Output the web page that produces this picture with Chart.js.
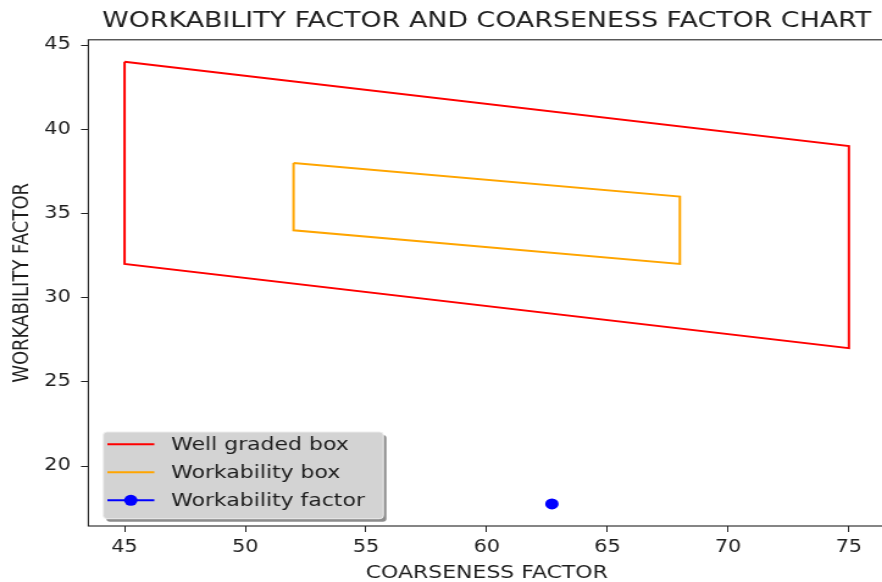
<!DOCTYPE html>
<html>
<head>
<meta charset="utf-8">
<script src="https://cdn.jsdelivr.net/npm/chart.js@4.4.1/dist/chart.umd.min.js"></script>
<style>
  html, body { margin: 0; padding: 0; background: #fff; overflow: hidden; }
  #wrap { width: 882px; height: 582px; overflow: hidden; position: relative; }
  #chart { position: absolute; left: 0; top: 0; transform: scaleX(1.22); transform-origin: 0 0; }
</style>
</head>
<body>
<div id="wrap"><canvas id="chart" width="731" height="582"></canvas></div>
<script>
// --- DATA ---
const wellGradedX = [45, 75, 75, 45, 45];
const wellGradedY = [44, 39, 27, 32, 44];
const workBoxX = [52, 68, 68, 52, 52];
const workBoxY = [38, 36, 32, 34, 38];
const factorX = [62.7];
const factorY = [17.75];
const xTicks = [45, 50, 55, 60, 65, 70, 75];
const yTicks = [20, 25, 30, 35, 40, 45];
const seriesLabels = ['Well graded box', 'Workability box', 'Workability factor'];

const toPoints = (xs, ys) => xs.map((x, i) => ({ x: x, y: ys[i] }));

const FONT = "'DejaVu Sans', sans-serif";
const TEXT = '#1e1e1e';

// --- Frame around the plot area (matplotlib spines) ---
const framePlugin = {
  id: 'frame',
  afterDraw(chart) {
    const { ctx, chartArea: a } = chart;
    ctx.save();
    ctx.strokeStyle = '#222';
    ctx.lineWidth = 1.1;
    ctx.strokeRect(a.left, a.top, a.right - a.left, a.bottom - a.top);
    ctx.restore();
  }
};

// --- Legend box in lower-left corner, with shadow ---
const legendPlugin = {
  id: 'boxLegend',
  afterDraw(chart) {
    const { ctx } = chart;
    const bx = 84.7, by = 432, bw = 229.5, bh = 86.7;
    ctx.save();
    ctx.fillStyle = '#8c8c8c';
    ctx.beginPath(); ctx.roundRect(bx + 2.5, by + 3, bw, bh, 3); ctx.fill();
    ctx.fillStyle = '#d3d3d3';
    ctx.strokeStyle = '#ececec';
    ctx.lineWidth = 1;
    ctx.beginPath(); ctx.roundRect(bx, by, bw, bh, 3); ctx.fill(); ctx.stroke();

    ctx.font = '18px ' + FONT;
    ctx.textBaseline = 'middle';
    ctx.fillStyle = TEXT;
    chart.data.datasets.forEach((ds, i) => {
      const y = 444.3 + i * 28;
      ctx.strokeStyle = ds.borderColor;
      ctx.lineWidth = 2;
      ctx.beginPath(); ctx.moveTo(88, y); ctx.lineTo(126.5, y); ctx.stroke();
      if (ds.pointRadius > 0) {
        ctx.fillStyle = ds.backgroundColor;
        ctx.beginPath(); ctx.arc(107.2, y, 5.5, 0, Math.PI * 2); ctx.fill();
      }
      ctx.fillStyle = TEXT;
      ctx.fillText(ds.label, 140.2, y + 1);
    });
    ctx.restore();
  }
};

const ctx = document.getElementById('chart').getContext('2d');
const chart = new Chart(ctx, {
  type: 'scatter',
  data: {
    datasets: [
      { label: seriesLabels[0], data: toPoints(wellGradedX, wellGradedY), showLine: true,
        borderColor: '#ff0000', backgroundColor: '#ff0000', borderWidth: 2, pointRadius: 0 },
      { label: seriesLabels[1], data: toPoints(workBoxX, workBoxY), showLine: true,
        borderColor: '#ffa500', backgroundColor: '#ffa500', borderWidth: 2, pointRadius: 0 },
      { label: seriesLabels[2], data: toPoints(factorX, factorY), showLine: false,
        borderColor: '#0000ff', backgroundColor: '#0000ff', borderWidth: 0, pointRadius: 5.5 }
    ]
  },
  options: {
    responsive: false,
    animation: false,
    layout: { padding: { right: 1 } },
    plugins: {
      legend: { display: false },
      tooltip: { enabled: false },
      title: {
        display: true,
        text: 'WORKABILITY FACTOR AND COARSENESS FACTOR CHART',
        color: TEXT,
        fullSize: false,
        font: { family: FONT, size: 22, weight: 'normal', lineHeight: 1.2 },
        padding: { top: 8, bottom: 5.4 }
      }
    },
    scales: {
      x: {
        type: 'linear', min: 43.5, max: 76.5,
        afterBuildTicks: s => { s.ticks = xTicks.map(v => ({ value: v })); },
        afterFit: s => { s.height = 56; },
        border: { display: false },
        grid: { drawOnChartArea: false, drawTicks: true, tickLength: 6, tickColor: '#222' },
        ticks: { color: TEXT, font: { family: FONT, size: 17 }, padding: 5, maxRotation: 0 },
        title: { display: true, text: 'COARSENESS FACTOR', color: TEXT,
                 font: { family: FONT, size: 18, lineHeight: 1 }, padding: { top: 0, bottom: 0 } }
      },
      y: {
        type: 'linear', min: 16.44, max: 45.31,
        afterBuildTicks: s => { s.ticks = yTicks.map(v => ({ value: v })); },
        afterFit: s => { s.width = 72.4; },
        border: { display: false },
        grid: { drawOnChartArea: false, drawTicks: true, tickLength: 6, tickColor: '#222' },
        ticks: { color: TEXT, font: { family: FONT, size: 17 }, padding: 8.4 },
        title: { display: true, text: 'WORKABILITY FACTOR', color: TEXT,
                 font: { family: FONT, size: 18, lineHeight: 1 }, padding: { top: 9, bottom: 0 } }
      }
    }
  },
  plugins: [framePlugin, legendPlugin]
});
</script>
</body>
</html>
